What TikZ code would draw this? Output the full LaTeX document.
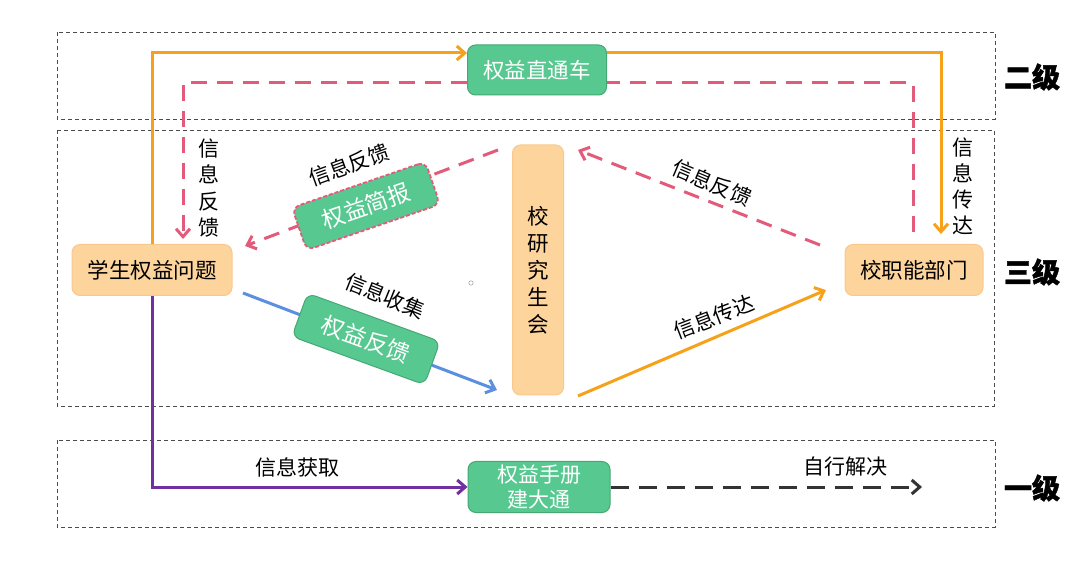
\documentclass[tikz,border=0pt]{standalone}
\usepackage{fontspec}
\setmainfont{Noto Sans CJK SC}
\newfontfamily\heavyfont[BoldFeatures={FakeBold=1.5}]{Noto Sans CJK SC}
\usetikzlibrary{arrows.meta}
\definecolor{gfill}{HTML}{58C891}
\definecolor{gdraw}{HTML}{45A873}
\definecolor{ofill}{HTML}{FDD49C}
\definecolor{odraw}{HTML}{F8C98C}
\definecolor{oline}{HTML}{F7A11A}
\definecolor{pline}{HTML}{E35B7A}
\definecolor{bline}{HTML}{5B8FE0}
\definecolor{uline}{HTML}{7030A0}
\definecolor{kline}{HTML}{333333}
\tikzset{
  greenbox/.style={draw=gdraw, fill=gfill, rounded corners=8pt, line width=1pt,
    text=white, font=\fontsize{21.5}{26}\selectfont, minimum height=50pt, align=center, inner sep=1pt},
  orangebox/.style={draw=odraw, fill=ofill, rounded corners=8pt, line width=1pt,
    text=black, font=\fontsize{21.5}{26}\selectfont, minimum height=51pt, align=center, inner sep=1pt},
  levelbox/.style={draw=black!70, dash pattern=on 4pt off 3pt, line width=0.8pt},
  leveltxt/.style={font=\heavyfont\fontsize{28}{30}\selectfont\bfseries},
  lbl/.style={font=\fontsize{21}{26}\selectfont, text=black, inner sep=1pt},
  tip/.style={-{Straight Barb[length=8pt,width=14pt,line width=3pt]}},
  oarrow/.style={draw=oline, line width=3pt, tip},
  parrow/.style={draw=pline, line width=3pt, dash pattern=on 16pt off 10pt, tip},
  pline/.style={draw=pline, line width=3pt, dash pattern=on 16pt off 10pt},
}
\begin{document}
\begin{tikzpicture}[x=1pt,y=-1pt]
\useasboundingbox (0,0) rectangle (1080,569);
% level boxes
\draw[levelbox] (57,32) rectangle (995,119);
\draw[levelbox] (57,130) rectangle (994,406);
\draw[levelbox] (57,440) rectangle (995,527);
\node[leveltxt] (l2) at (1032,77) {二级};
\node[leveltxt] (l3) at (1032,272) {三级};
\node[leveltxt] (l1) at (1032,488) {一级};

% nodes
\node[greenbox, minimum width=139pt] (zt) at (537,70) {权益直通车};
\node[orangebox, minimum width=160pt] (wt) at (152,270) {学生权益问题};
\node[orangebox, minimum width=138pt] (zn) at (914,270) {校职能部门};
\node[orangebox, minimum width=51pt, minimum height=250pt, font=\fontsize{21.5}{27}\selectfont] (yjs) at (538,270)
  {校\\研\\究\\生\\会};
\node[greenbox, minimum width=142pt, minimum height=51pt, font=\fontsize{21}{25.5}\selectfont] (sc) at (539,487) {权益手册\\建大通};

% coordinates for free ends
\coordinate (c1) at (820,245);
\coordinate (c2) at (578,150);
\coordinate (c3) at (498,150);
\coordinate (c4) at (245,246);
\coordinate (c5) at (243,293);
\coordinate (c6) at (497,390);
\coordinate (c7) at (578,396);
\coordinate (c8) at (826,290);
\coordinate (c9) at (922,487);

% top loop
\draw[oarrow] (wt.north) |- ([yshift=17pt]zt.west);
\draw[oarrow] ([yshift=17pt]zt.east) -| ([xshift=27pt,yshift=10pt]zn.north);
\draw[pline] ([xshift=-1pt,yshift=12pt]zn.north) |- ([yshift=-13pt]zt.east);
\draw[parrow] ([yshift=-13pt]zt.west) -| ([xshift=31pt,yshift=5pt]wt.north);

% diagonals
\draw[parrow] (c1) -- (c2);
\draw[parrow] (c3) -- (c4);
\draw[draw=bline, line width=3pt, tip] (c5) -- (c6);
\draw[oarrow] (c7) -- (c8);

% bottom
\draw[draw=uline, line width=3pt, tip] (wt.south) |- (sc.west);
\draw[draw=kline, line width=3pt, dash pattern=on 18pt off 10pt, tip] (sc.east) -- (c9);

% rotated boxes
\node[greenbox, minimum width=141pt, minimum height=45pt, rotate=19, draw=pline, dash pattern=on 4pt off 2pt, line width=1.8pt, font=\fontsize{23}{26}\selectfont] (jb) at (366,206) {权益简报};
\node[greenbox, minimum width=141pt, minimum height=46pt, rotate=-20, font=\fontsize{23}{26}\selectfont] (fk) at (366,339) {权益反馈};

% labels
\node[lbl, align=center, font=\fontsize{21}{26.5}\selectfont] (v1) at (209,188) {信\\息\\反\\馈};
\node[lbl, align=center, font=\fontsize{21}{26}\selectfont] (v2) at (963,186) {信\\息\\传\\达};
\node[lbl, rotate=20] (t1) at (349,165) {信息反馈};
\node[lbl, rotate=-22] (t2) at (385,296) {信息收集};
\node[lbl, rotate=-23] (t3) at (712,183) {信息反馈};
\node[lbl, rotate=21] (t4) at (714,317) {信息传达};
\node[lbl] (t5) at (297,467) {信息获取};
\node[lbl] (t6) at (845,467) {自行解决};

\draw[gray!70, line width=0.6pt] (471,283) circle (2.2pt);
\end{tikzpicture}
\end{document}
